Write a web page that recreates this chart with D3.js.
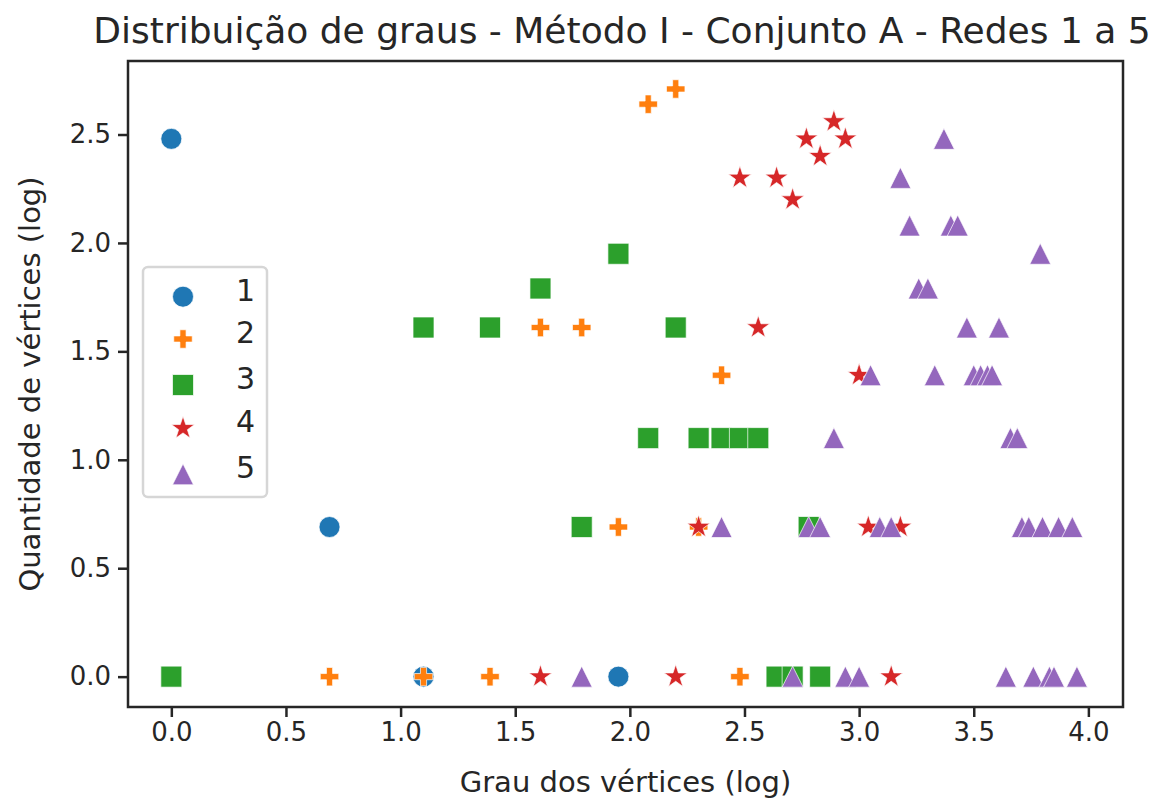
<!DOCTYPE html>
<html>
<head>
<meta charset="utf-8">
<script src="https://cdn.jsdelivr.net/npm/d3@7"></script>
<style>
    body { margin: 0; background: #fff; }
    text { font-family: "DejaVu Sans", sans-serif; fill: #262626; }
</style>
</head>
<body>
<div id="chart"></div>
<script>
// values are ln(grau) / ln(quantidade)
const seriesNames = ["1", "2", "3", "4", "5"];
const colors = ["#1f77b4", "#ff7f0e", "#2ca02c", "#d62728", "#9467bd"];

const rede1X = [0.00, 0.69, 1.10, 1.95];
const rede1Y = [2.48, 0.69, 0.00, 0.00];

const rede2X = [2.08, 2.20, 1.61, 1.79, 2.40, 1.95, 2.30, 0.69, 1.10, 1.39, 2.48];
const rede2Y = [2.64, 2.71, 1.61, 1.61, 1.39, 0.69, 0.69, 0.00, 0.00, 0.00, 0.00];

const rede3X = [1.95, 1.61, 1.10, 1.39, 2.20, 2.08, 2.30, 2.40, 2.48, 2.56, 1.79, 2.78, 0.00, 2.64, 2.71, 2.83];
const rede3Y = [1.95, 1.79, 1.61, 1.61, 1.61, 1.10, 1.10, 1.10, 1.10, 1.10, 0.69, 0.69, 0.00, 0.00, 0.00, 0.00];

const rede4X = [2.89, 2.77, 2.94, 2.83, 2.48, 2.64, 2.71, 2.56, 3.00, 2.30, 3.04, 3.18, 1.61, 2.20, 3.14];
const rede4Y = [2.56, 2.48, 2.48, 2.40, 2.30, 2.30, 2.20, 1.61, 1.39, 0.69, 0.69, 0.69, 0.00, 0.00, 0.00];

const rede5X = [3.37, 3.18, 3.22, 3.40, 3.43, 3.79, 3.26, 3.30, 3.47, 3.61,
    3.05, 3.33, 3.50, 3.53, 3.56, 3.58, 2.89, 3.66, 3.69,
    2.40, 2.78, 2.83, 3.09, 3.14, 3.71, 3.74, 3.80, 3.87, 3.93,
    1.79, 2.71, 2.94, 3.00, 3.64, 3.76, 3.83, 3.85, 3.95];
const rede5Y = [2.48, 2.30, 2.08, 2.08, 2.08, 1.95, 1.79, 1.79, 1.61, 1.61,
    1.39, 1.39, 1.39, 1.39, 1.39, 1.39, 1.10, 1.10, 1.10,
    0.69, 0.69, 0.69, 0.69, 0.69, 0.69, 0.69, 0.69, 0.69, 0.69,
    0.00, 0.00, 0.00, 0.00, 0.00, 0.00, 0.00, 0.00, 0.00];

const xTicks = [0.0, 0.5, 1.0, 1.5, 2.0, 2.5, 3.0, 3.5, 4.0];
const yTicks = [0.0, 0.5, 1.0, 1.5, 2.0, 2.5];

const allX = [rede1X, rede2X, rede3X, rede4X, rede5X];
const allY = [rede1Y, rede2Y, rede3Y, rede4Y, rede5Y];

// matplotlib style triangle "^" (apex up, same width and height)
const triangleUp = {
    draw: function(context, size) {
        const h = Math.sqrt(size) / 2;
        context.moveTo(0, -h);
        context.lineTo(h, h);
        context.lineTo(-h, h);
        context.closePath();
    }
};
const symbolTypes = [d3.symbolCircle, d3.symbolCross, d3.symbolSquare, d3.symbolStar, triangleUp];
const symbolSizes = [346, 190, 441, 165, 441];

const width = 1152;
const height = 800;
const margin = { top: 61, right: 29, bottom: 93, left: 128 };

const svg = d3.select("#chart")
    .append("svg")
    .attr("width", width)
    .attr("height", height);

const x = d3.scaleLinear()
    .domain([-0.189, 4.151])
    .range([margin.left, width - margin.right]);

const y = d3.scaleLinear()
    .domain([-0.14, 2.839])
    .range([height - margin.bottom, margin.top]);

// points, series drawn in order so later ones sit on top
seriesNames.forEach(function(name, i) {
    const pts = allX[i].map(function(v, j) { return { x: v, y: allY[i][j] }; });
    svg.append("g")
        .attr("class", "serie-" + name)
        .selectAll("path")
        .data(pts)
        .enter()
        .append("path")
        .attr("transform", function(d) {
            return "translate(" + x(d.x) + "," + y(d.y) + ")";
        })
        .attr("d", d3.symbol().type(symbolTypes[i]).size(symbolSizes[i]))
        .attr("fill", colors[i])
        .attr("stroke", "#fff")
        .attr("stroke-width", 0.7);
});

// axes
const xAxis = svg.append("g")
    .attr("transform", "translate(0," + (height - margin.bottom) + ")")
    .call(d3.axisBottom(x).tickValues(xTicks).tickFormat(d3.format(".1f")).tickSize(10).tickPadding(6));

const yAxis = svg.append("g")
    .attr("transform", "translate(" + margin.left + ",0)")
    .call(d3.axisLeft(y).tickValues(yTicks).tickFormat(d3.format(".1f")).tickSize(10).tickPadding(7));

[xAxis, yAxis].forEach(function(ax) {
    ax.select(".domain").remove();
    ax.selectAll("line").attr("stroke", "#262626").attr("stroke-width", 2.5);
    ax.selectAll("text")
        .style("font-family", "DejaVu Sans")
        .style("font-size", "26px")
        .attr("fill", "#262626");
});

// frame
svg.append("rect")
    .attr("x", margin.left)
    .attr("y", margin.top)
    .attr("width", width - margin.left - margin.right)
    .attr("height", height - margin.top - margin.bottom)
    .attr("fill", "none")
    .attr("stroke", "#262626")
    .attr("stroke-width", 2.5);

// titles
svg.append("text")
    .attr("x", 622)
    .attr("y", 43)
    .attr("text-anchor", "middle")
    .style("font-size", "36px")
    .text("Distribuição de graus - Método I - Conjunto A - Redes 1 a 5");

svg.append("text")
    .attr("x", (margin.left + width - margin.right) / 2)
    .attr("y", 792)
    .attr("text-anchor", "middle")
    .style("font-size", "29px")
    .text("Grau dos vértices (log)");

svg.append("text")
    .attr("transform", "translate(40," + ((margin.top + height - margin.bottom) / 2) + ") rotate(-90)")
    .attr("text-anchor", "middle")
    .style("font-size", "29px")
    .text("Quantidade de vértices (log)");

// legend
const legend = svg.append("g").attr("class", "legend");

legend.append("rect")
    .attr("x", 143)
    .attr("y", 267)
    .attr("width", 124)
    .attr("height", 230)
    .attr("rx", 5)
    .attr("fill", "#fff")
    .attr("fill-opacity", 0.8)
    .attr("stroke", "#d6d6d6")
    .attr("stroke-width", 2.5);

const legendY = [296.7, 339, 385, 428.3, 474.3];

seriesNames.forEach(function(name, i) {
    legend.append("path")
        .attr("transform", "translate(183," + legendY[i] + ")")
        .attr("d", d3.symbol().type(symbolTypes[i]).size(symbolSizes[i]))
        .attr("fill", colors[i])
        .attr("stroke", "#fff")
        .attr("stroke-width", 0.7);

    legend.append("text")
        .attr("x", 236)
        .attr("y", legendY[i] + 4)
        .style("font-size", "30px")
        .text(name);
});
</script>
</body>
</html>
